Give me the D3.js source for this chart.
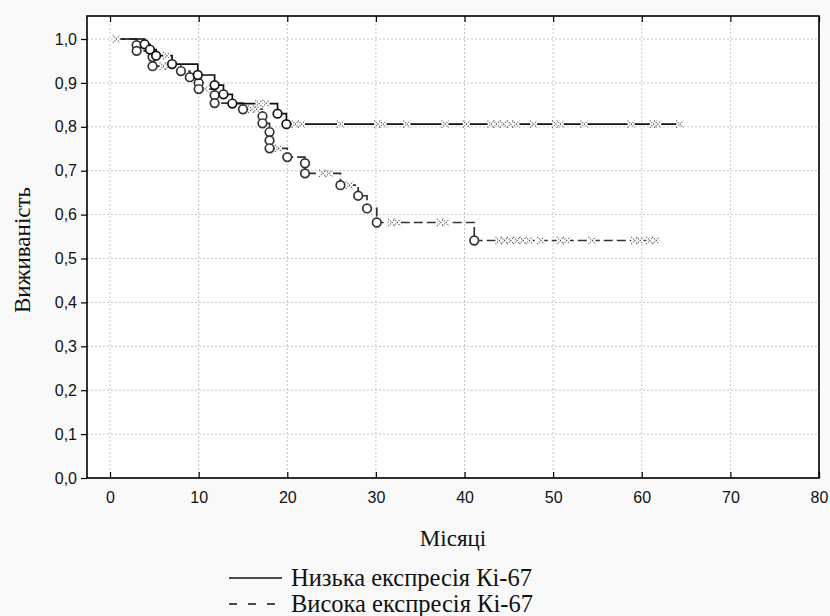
<!DOCTYPE html>
<html>
<head>
<meta charset="utf-8">
<script src="https://cdn.jsdelivr.net/npm/d3@7/dist/d3.min.js"></script>
<style>
  html, body { margin: 0; padding: 0; background: #f9f9f9; }
  svg { display: block; }
</style>
</head>
<body>
<svg id="chart" width="830" height="616"></svg>
<script>
// ---- data ----
const xTicks = [0, 10, 20, 30, 40, 50, 60, 70, 80];
const yTicks = [0, 0.1, 0.2, 0.3, 0.4, 0.5, 0.6, 0.7, 0.8, 0.9, 1.0];

// Low Ki-67 expression (solid)
const lowStart = 1.3;
const lowEnd = 64.5;
const lowEventTimes = [3.9, 4.5, 5.2, 7.0, 9.9, 11.8, 12.8, 13.8, 18.9, 19.9];
const lowSurvival   = [0.988, 0.976, 0.962, 0.943, 0.918, 0.895, 0.874, 0.853, 0.830, 0.806];
const lowCensored   = [6.4, 16.8, 17.6, 20.9, 21.6, 26.0, 30.2, 30.8, 33.5, 37.8, 40.2, 43.0, 43.6,
                       44.4, 45.2, 45.8, 47.8, 50.3, 50.8, 53.5, 58.8, 61.3, 61.8, 64.3];

// High Ki-67 expression (dashed)
const highStart = 0.7;
const highEnd = 62.0;
const highEventTimes = [3.0, 3.0, 4.8, 4.8, 8.0, 9.0, 10.0, 10.0, 11.8, 11.8, 15.0, 17.2, 17.2,
                        18.0, 18.0, 18.0, 20.0, 22.0, 22.0, 26.0, 28.0, 29.0, 30.1, 41.1];
const highSurvival   = [0.986, 0.973, 0.959, 0.938, 0.927, 0.913, 0.900, 0.886, 0.872, 0.854, 0.840, 0.824, 0.808,
                        0.788, 0.769, 0.751, 0.731, 0.717, 0.694, 0.667, 0.643, 0.614, 0.582, 0.541];
const highCensored   = [0.7, 6.0, 6.6, 10.7, 16.0, 16.5, 19.0, 24.0, 24.7, 27.0, 31.8, 32.4, 37.3, 37.9,
                        43.9, 44.5, 45.2, 45.9, 46.6, 47.3, 48.6, 50.8, 51.5, 54.4, 59.2, 59.8, 60.9, 61.6];

const seriesNames = ["Низька експресія Кі-67", "Висока експресія Кі-67"];
const xTitle = "Місяці";
const yTitle = "Виживаність";

// ---- layout ----
const svg = d3.select("#chart");
const L = 87, R = 819, T = 16, B = 478;

const x = d3.scaleLinear().domain([-2.6, 80]).range([L, R]);
const y = d3.scaleLinear().domain([0, 1.0524]).range([B, T]);

// plot background
svg.append("rect").attr("x", L).attr("y", T).attr("width", R - L).attr("height", B - T).attr("fill", "#ffffff");

// grid
const grid = svg.append("g");
grid.selectAll(".gx").data(xTicks).join("line")
  .attr("x1", d => x(d)).attr("x2", d => x(d)).attr("y1", T).attr("y2", B)
  .attr("stroke", "#c4c4c4").attr("stroke-width", 1).attr("stroke-dasharray", "2,2");
grid.selectAll(".gy").data(yTicks).join("line")
  .attr("x1", L).attr("x2", R).attr("y1", d => y(d)).attr("y2", d => y(d))
  .attr("stroke", "#c4c4c4").attr("stroke-width", 1).attr("stroke-dasharray", "2,2");

// axes
const fmt = d => d3.format(".1f")(d).replace(".", ",");
const yAxis = svg.append("g").attr("transform", `translate(${L},0)`)
  .call(d3.axisLeft(y).tickValues(yTicks).tickFormat(fmt).tickSizeInner(6).tickSizeOuter(0).tickPadding(4));
const xAxis = svg.append("g").attr("transform", `translate(0,${B})`)
  .call(d3.axisBottom(x).tickValues(xTicks).tickFormat(d3.format("d")).tickSizeInner(-6).tickSizeOuter(0).tickPadding(14));
const xTop = svg.append("g").attr("transform", `translate(0,${T})`)
  .call(d3.axisTop(x).tickValues(xTicks).tickFormat("").tickSizeInner(-6).tickSizeOuter(0));
[yAxis, xAxis, xTop].forEach(g => {
  g.select(".domain").remove();
  g.selectAll(".tick line").attr("stroke", "#000").attr("stroke-width", 1.2);
  g.selectAll(".tick text").attr("font-family", "'Liberation Sans', Arial, sans-serif")
    .attr("font-size", 16).attr("fill", "#111");
});

// curves
function stepPoints(start, end, times, surv) {
  const pts = [[start, 1]];
  times.forEach((t, i) => pts.push([t, surv[i]]));
  pts.push([end, surv[surv.length - 1]]);
  return pts;
}
function survAt(t, times, surv) {
  let s = 1;
  times.forEach((tt, i) => { if (tt <= t) s = surv[i]; });
  return s;
}
const line = d3.line().x(d => x(d[0])).y(d => y(d[1])).curve(d3.curveStepAfter);

const groups = [
  { start: highStart, end: highEnd, times: highEventTimes, surv: highSurvival, cens: highCensored,
    stroke: "#333", dash: "9,4", circ: "#333" },
  { start: lowStart, end: lowEnd, times: lowEventTimes, surv: lowSurvival, cens: lowCensored,
    stroke: "#111", dash: null, circ: "#151515" }
];

groups.forEach(g => {
  svg.append("path").datum(stepPoints(g.start, g.end, g.times, g.surv))
    .attr("d", line).attr("fill", "none").attr("stroke", g.stroke).attr("stroke-width", 1.7)
    .attr("stroke-dasharray", g.dash);
});

// censored marks
groups.forEach(g => {
  const cg = svg.append("g");
  g.cens.forEach(t => {
    const cx = x(t), cy = y(survAt(t, g.times, g.surv));
    cg.append("rect").attr("x", cx - 3.5).attr("y", cy - 2).attr("width", 7).attr("height", 4).attr("fill", "#fff");
    cg.append("path").attr("d", `M${cx-3.5},${cy-3.5}L${cx+3.5},${cy+3.5}M${cx-3.5},${cy+3.5}L${cx+3.5},${cy-3.5}`)
      .attr("stroke", "#444").attr("stroke-width", 1.1).attr("stroke-dasharray", "1,1.4").attr("fill", "none");
  });
});

// event circles
groups.forEach(g => {
  svg.append("g").selectAll("circle").data(g.times.map((t, i) => [t, g.surv[i]])).join("circle")
    .attr("cx", d => x(d[0])).attr("cy", d => y(d[1])).attr("r", 4.3)
    .attr("fill", "#fff").attr("stroke", g.circ).attr("stroke-width", 1.7);
});

// frame
svg.append("rect").attr("x", L).attr("y", T).attr("width", R - L).attr("height", B - T)
  .attr("fill", "none").attr("stroke", "#000").attr("stroke-width", 1.6);

// titles
const serif = "'Liberation Serif', 'Times New Roman', serif";
svg.append("text").attr("x", (L + R) / 2).attr("y", 546).attr("text-anchor", "middle")
  .attr("font-family", serif).attr("font-size", 23).attr("fill", "#111").text(xTitle);
svg.append("text").attr("transform", "translate(30,250) rotate(-90)").attr("text-anchor", "middle")
  .attr("font-family", serif).attr("font-size", 23).attr("fill", "#111").text(yTitle);

// legend
const lg = svg.append("g");
const legendRows = [{ y: 578, dash: null }, { y: 604, dash: "8,11" }];
legendRows.forEach((r, i) => {
  lg.append("line").attr("x1", 229).attr("x2", 282).attr("y1", r.y).attr("y2", r.y)
    .attr("stroke", "#111").attr("stroke-width", 1.6).attr("stroke-dasharray", r.dash);
  lg.append("text").attr("x", 291).attr("y", r.y + 8).attr("font-family", serif).attr("font-size", 24.5)
    .attr("fill", "#111").text(seriesNames[i]);
});
</script>
</body>
</html>
